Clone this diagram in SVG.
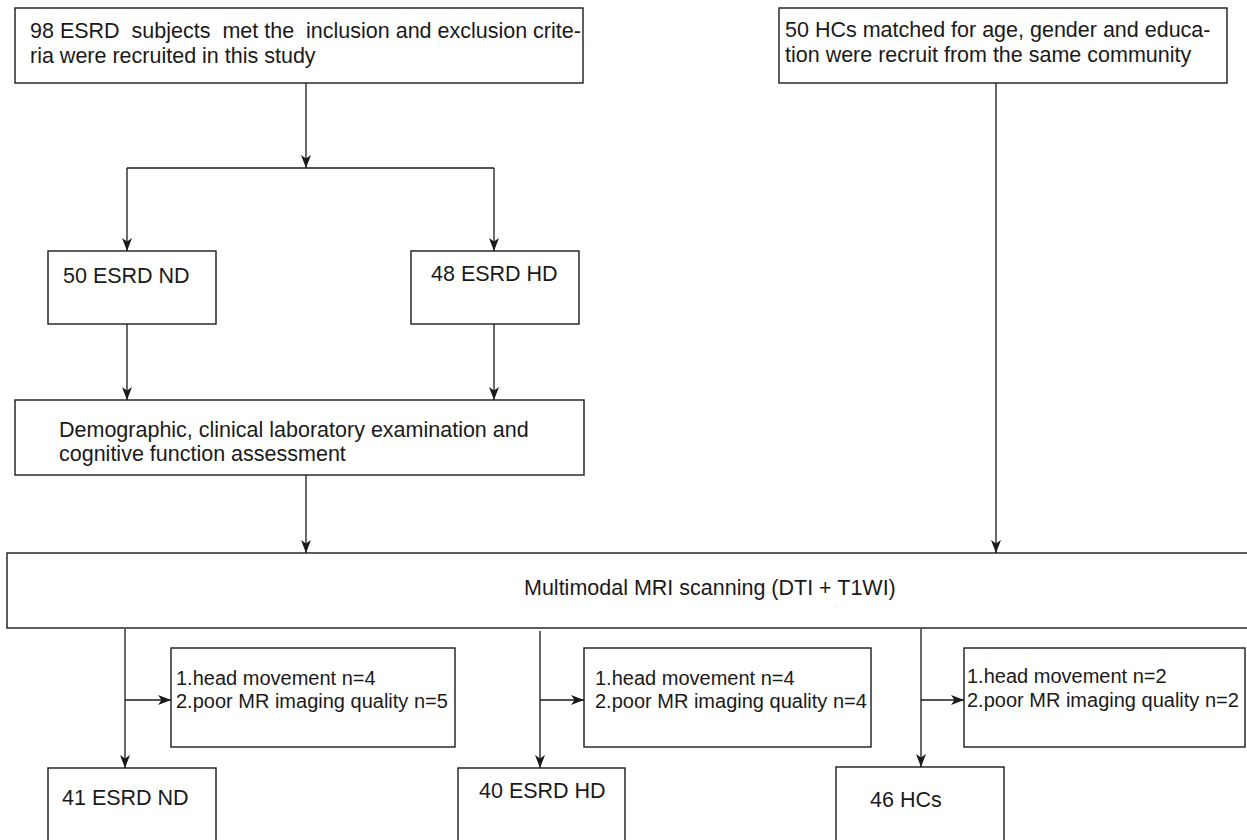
<svg xmlns="http://www.w3.org/2000/svg" width="1247" height="840" viewBox="0 0 1247 840">
<defs>
<marker id="arr" viewBox="0 0 13 10" refX="13" refY="5" markerWidth="13" markerHeight="10" markerUnits="userSpaceOnUse" orient="auto">
<path d="M0,0 L13,5 L0,10 L3.5,5 Z" fill="#1a1a1a"/>
</marker>
</defs>
<style>
.box{fill:#fff;stroke:#1a1a1a;stroke-width:1.4}
.t{font-family:"Liberation Sans",Arial,sans-serif;font-size:21.5px;fill:#1a1a1a;white-space:pre}
.s{font-family:"Liberation Sans",Arial,sans-serif;font-size:20px;fill:#1a1a1a}
.c{fill:none;stroke:#1a1a1a;stroke-width:1.3}
.a{fill:none;stroke:#1a1a1a;stroke-width:1.3;marker-end:url(#arr)}
</style>
<rect width="1247" height="840" fill="#fff"/>
<g id="connectors">
<line class="a" x1="306" y1="83" x2="306" y2="168"/>
<line class="c" x1="127" y1="168" x2="494" y2="168"/>
<line class="a" x1="127" y1="168" x2="127" y2="251"/>
<line class="a" x1="494" y1="168" x2="494" y2="251"/>
<line class="a" x1="127" y1="324" x2="127" y2="400"/>
<line class="a" x1="494" y1="324" x2="494" y2="400"/>
<line class="a" x1="306" y1="475" x2="306" y2="553"/>
<line class="a" x1="996" y1="83" x2="996" y2="553"/>
<line class="a" x1="125" y1="629" x2="125" y2="768"/>
<line class="a" x1="125" y1="700" x2="171" y2="700"/>
<line class="a" x1="540" y1="631" x2="540" y2="768"/>
<line class="a" x1="540" y1="700" x2="584" y2="700"/>
<line class="a" x1="921" y1="629" x2="921" y2="767"/>
<line class="a" x1="921" y1="700" x2="964" y2="700"/>
</g>
<g id="esrd-recruited">
<rect class="box" x="15" y="8" width="568" height="75"/>
<text class="t" x="30" y="38" xml:space="preserve">98 ESRD  subjects  met the  inclusion and exclusion crite-</text>
<text class="t" x="30" y="63">ria were recruited in this study</text>
</g>
<g id="hc-recruited">
<rect class="box" x="779" y="8" width="448" height="75"/>
<text class="t" x="785" y="37">50 HCs matched for age, gender and educa-</text>
<text class="t" x="785" y="62">tion were recruit from the same community</text>
</g>
<g id="esrd-nd-50">
<rect class="box" x="48" y="251" width="168" height="73"/>
<text class="t" x="63" y="283">50 ESRD ND</text>
</g>
<g id="esrd-hd-48">
<rect class="box" x="411" y="251" width="168" height="73"/>
<text class="t" x="431" y="281">48 ESRD HD</text>
</g>
<g id="assessment">
<rect class="box" x="15" y="400" width="569" height="75"/>
<text class="t" x="59" y="437">Demographic, clinical laboratory examination and</text>
<text class="t" x="59" y="461">cognitive function assessment</text>
</g>
<g id="mri">
<rect class="box" x="7" y="553" width="1260" height="75"/>
<text class="t" x="524" y="595">Multimodal MRI scanning (DTI + T1WI)</text>
</g>
<g id="excl-nd">
<rect class="box" x="171" y="648" width="284" height="99"/>
<text class="s" x="176" y="685">1.head movement n=4</text>
<text class="s" x="176" y="708">2.poor MR imaging quality n=5</text>
</g>
<g id="excl-hd">
<rect class="box" x="584" y="648" width="287" height="99"/>
<text class="s" x="595" y="685">1.head movement n=4</text>
<text class="s" x="595" y="708">2.poor MR imaging quality n=4</text>
</g>
<g id="excl-hc">
<rect class="box" x="964" y="648" width="281" height="99"/>
<text class="s" x="967" y="683">1.head movement n=2</text>
<text class="s" x="967" y="707">2.poor MR imaging quality n=2</text>
</g>
<g id="esrd-nd-41">
<rect class="box" x="48" y="768" width="168" height="90"/>
<text class="t" x="62" y="805">41 ESRD ND</text>
</g>
<g id="esrd-hd-40">
<rect class="box" x="458" y="768" width="167" height="90"/>
<text class="t" x="479" y="798">40 ESRD HD</text>
</g>
<g id="hcs-46">
<rect class="box" x="836" y="767" width="168" height="90"/>
<text class="t" x="870" y="807">46 HCs</text>
</g>
</svg>
